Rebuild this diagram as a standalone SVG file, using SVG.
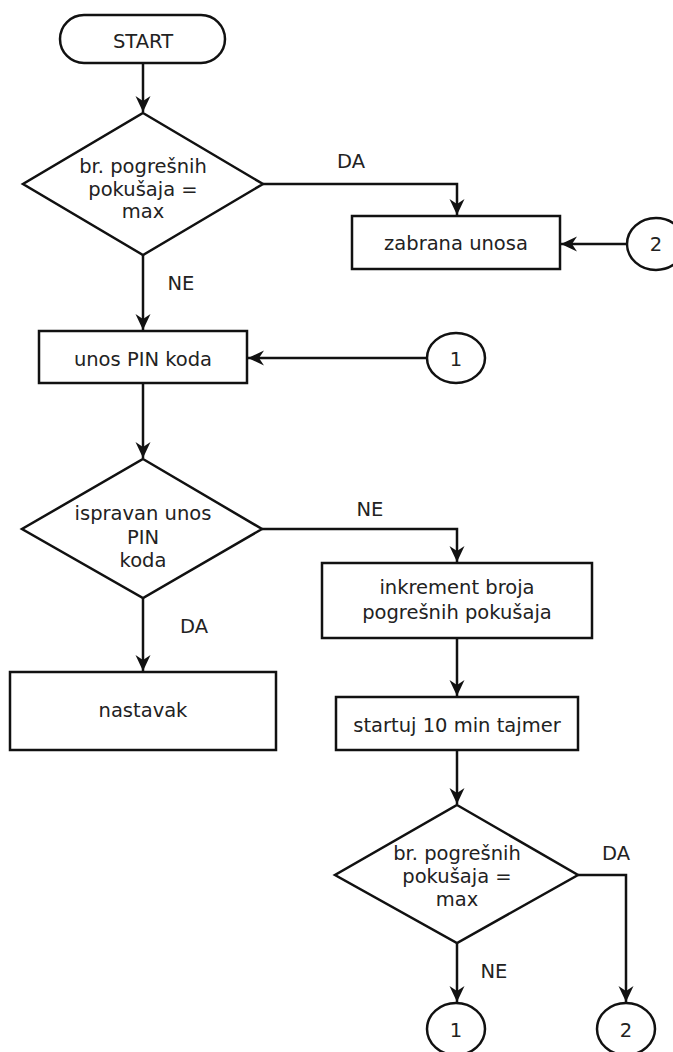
<svg xmlns="http://www.w3.org/2000/svg" width="673" height="1052" viewBox="0 0 673 1052">
<style>
.s{fill:#fff;stroke:#111;stroke-width:2.5}
.t{font-family:"DejaVu Sans",Verdana,sans-serif;font-size:19.5px;fill:#222;text-anchor:middle}
.c{fill:none;stroke:#111;stroke-width:2.5}
</style>
<defs>
<marker id="ah" markerUnits="userSpaceOnUse" markerWidth="18" markerHeight="16" refX="16" refY="7.5" orient="auto">
<path d="M0,0 L16,7.5 L0,15 L5,7.5 Z" fill="#111"/>
</marker>
</defs>
<rect width="673" height="1052" fill="#fff"/>
<g id="connectors">
<path class="c" d="M143,63 V112" marker-end="url(#ah)"/>
<path class="c" d="M263,184 H457 V215" marker-end="url(#ah)"/>
<path class="c" d="M627,244 H561" marker-end="url(#ah)"/>
<path class="c" d="M143,255 V330" marker-end="url(#ah)"/>
<path class="c" d="M427,358 H248" marker-end="url(#ah)"/>
<path class="c" d="M143,383 V458" marker-end="url(#ah)"/>
<path class="c" d="M262,529 H457 V562" marker-end="url(#ah)"/>
<path class="c" d="M143,598 V671" marker-end="url(#ah)"/>
<path class="c" d="M457,638 V696" marker-end="url(#ah)"/>
<path class="c" d="M457,750 V804" marker-end="url(#ah)"/>
<path class="c" d="M457,943 V1002" marker-end="url(#ah)"/>
<path class="c" d="M578,875 H626 V1002" marker-end="url(#ah)"/>
<text class="t" x="351" y="168">DA</text>
<text class="t" x="181" y="290">NE</text>
<text class="t" x="370" y="516">NE</text>
<text class="t" x="194" y="633">DA</text>
<text class="t" x="616" y="860">DA</text>
<text class="t" x="494" y="978">NE</text>
</g>
<g id="start">
<rect class="s" x="60" y="15" width="165" height="48" rx="24" ry="24"/>
<text class="t" x="143" y="48">START</text>
</g>
<g id="check1">
<polygon class="s" points="143,113 263,184 143,255 23,184"/>
<text class="t" x="143" y="173">br. pogrešnih</text>
<text class="t" x="143" y="196">pokušaja =</text>
<text class="t" x="143" y="218">max</text>
</g>
<g id="zabrana">
<rect class="s" x="352" y="216" width="208" height="53"/>
<text class="t" x="456" y="250">zabrana unosa</text>
</g>
<g id="conn2top">
<ellipse class="s" cx="656" cy="244" rx="29" ry="26"/>
<text class="t" x="656" y="251">2</text>
</g>
<g id="unos">
<rect class="s" x="39" y="331" width="208" height="52"/>
<text class="t" x="143" y="366">unos PIN koda</text>
</g>
<g id="conn1top">
<ellipse class="s" cx="456" cy="358" rx="29" ry="25"/>
<text class="t" x="456" y="366">1</text>
</g>
<g id="check2">
<polygon class="s" points="143,459 262,529 143,598 22,529"/>
<text class="t" x="143" y="520">ispravan unos</text>
<text class="t" x="143" y="544">PIN</text>
<text class="t" x="143" y="567">koda</text>
</g>
<g id="nastavak">
<rect class="s" x="10" y="672" width="266" height="78"/>
<text class="t" x="143" y="717">nastavak</text>
</g>
<g id="inkrement">
<rect class="s" x="322" y="563" width="270" height="75"/>
<text class="t" x="457" y="594">inkrement broja</text>
<text class="t" x="457" y="619">pogrešnih pokušaja</text>
</g>
<g id="timer">
<rect class="s" x="336" y="697" width="242" height="53"/>
<text class="t" x="457" y="732">startuj 10 min tajmer</text>
</g>
<g id="check3">
<polygon class="s" points="457,805 578,875 457,943 335,875"/>
<text class="t" x="457" y="860">br. pogrešnih</text>
<text class="t" x="457" y="883">pokušaja =</text>
<text class="t" x="457" y="906">max</text>
</g>
<g id="conn1bottom">
<ellipse class="s" cx="456" cy="1029" rx="29" ry="26"/>
<text class="t" x="456" y="1037">1</text>
</g>
<g id="conn2bottom">
<ellipse class="s" cx="626" cy="1029" rx="29" ry="26"/>
<text class="t" x="626" y="1037">2</text>
</g>
</svg>
